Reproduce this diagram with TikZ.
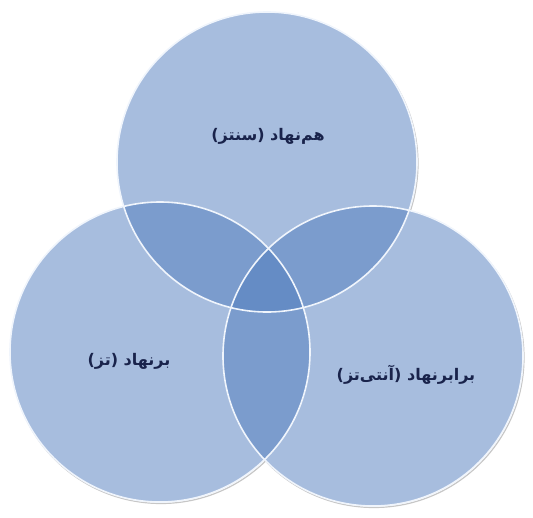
\documentclass[tikz,border=0pt]{standalone}
\usepackage{fontspec}
\usepackage{tikz}
\usetikzlibrary{positioning}
\newfontfamily\farsifont[Script=Arabic]{DejaVu Sans}
\TeXXeTstate=1
\definecolor{vennblue}{RGB}{80,125,190}
\definecolor{vennedge}{RGB}{240,245,252}
\definecolor{venntext}{RGB}{25,35,75}

\begin{document}
\begin{tikzpicture}[x=1pt, y=-1pt,
    vennbase/.style={circle, minimum size=300pt, inner sep=0pt, fill=white, draw=black!22, line width=1.2pt},
    vennfill/.style={circle, minimum size=300pt, inner sep=0pt, fill=vennblue, fill opacity=0.5},
    vennrim/.style={circle, minimum size=300pt, inner sep=0pt, draw=vennedge, line width=1.6pt},
    vlabel/.style={font=\farsifont\bfseries\fontsize{16}{19}\selectfont, text=venntext}]
  \useasboundingbox (0,0) rectangle (533,517);
  % shadows and white base
  \node[vennbase] (synbase) at (268,163.5) {};
  \node[vennbase] (thebase) at (161,353.5) {};
  \node[vennbase] (antbase) at (374,357.5) {};
  \node[circle, minimum size=300pt, fill=white] at (267,162) {};
  \node[circle, minimum size=300pt, fill=white] at (160,352) {};
  \node[circle, minimum size=300pt, fill=white] at (373,356) {};
  % the three sets
  \node[vennfill] (synthesis) at (267,162) {};
  \node[vennfill] (thesis) at (160,352) {};
  \node[vennfill] (antithesis) at (373,356) {};
  \node[vennrim] at (synthesis) {};
  \node[vennrim] at (thesis) {};
  \node[vennrim] at (antithesis) {};
  % labels
  \node[vlabel] (synlbl) at (268,136) {\beginR هم‌نهاد (سنتز)\endR};
  \node[vlabel] (thelbl) at (129,361) {\beginR برنهاد (تز)\endR};
  \node[vlabel] (antlbl) at (406,375) {\beginR برابرنهاد (آنتی‌تز)\endR};
\end{tikzpicture}
\end{document}
